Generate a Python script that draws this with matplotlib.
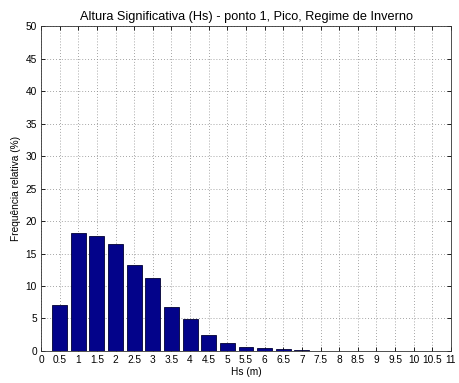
import numpy as np
import matplotlib
matplotlib.use("Agg")
import matplotlib.pyplot as plt

plt.rcParams["font.family"] = ["Liberation Sans", "DejaVu Sans"]

# Hs classes (m) and relative frequency (%)
hs = [0.5, 1, 1.5, 2, 2.5, 3, 3.5, 4, 4.5, 5, 5.5, 6, 6.5, 7, 7.5]
freq = [7.05, 18.1, 17.7, 16.45, 13.3, 11.2, 6.7, 4.85, 2.4, 1.23, 0.56, 0.5, 0.3, 0.15, 0.05]
xticks = np.arange(0, 11.01, 0.5)
xlabels = ["%g" % t for t in xticks]
yticks = np.arange(0, 51, 5)

fig = plt.figure(figsize=(4.59, 3.83), dpi=100)
ax = fig.add_axes([0.0893, 0.0836, 0.8933, 0.8484])

ax.bar(hs, freq, width=0.4, color="#03038a", edgecolor="#000033", linewidth=0.6, zorder=3)

ax.set_xlim(0, 11)
ax.set_ylim(0, 50)
ax.set_xticks(xticks, xlabels)
ax.set_yticks(yticks)
ax.tick_params(labelsize=7.3, direction="in", length=3, width=0.6, top=True, right=True, pad=3)
ax.grid(True, linestyle=(0, (1, 2.5)), color="#888888", linewidth=0.6, zorder=0)
for s in ax.spines.values():
    s.set_linewidth(0.6)
    s.set_color("#333333")

ax.set_title("Altura Significativa (Hs) - ponto 1, Pico, Regime de Inverno", fontsize=9.2, pad=4)
ax.set_xlabel("Hs (m)", fontsize=7.3, labelpad=1)
ax.set_ylabel("Frequência relativa (%)", fontsize=7.3, labelpad=3)

fig.savefig("out.png", dpi=100)
